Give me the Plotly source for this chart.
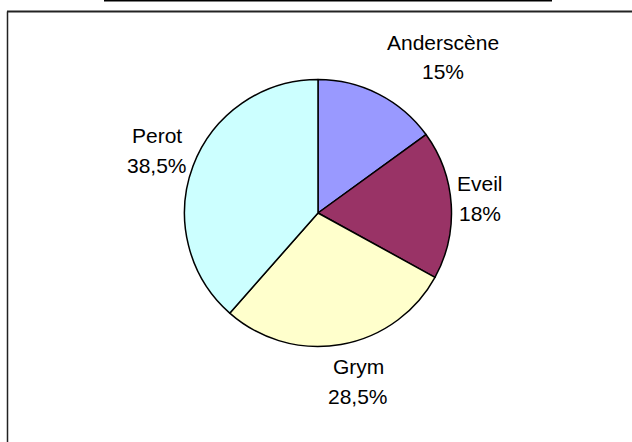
import plotly.graph_objects as go

labels = ["Anderscène", "Eveil", "Grym", "Perot"]
values = [15, 18, 28.5, 38.5]
pct_labels = ["15%", "18%", "28,5%", "38,5%"]
colors = ["#9999FF", "#993366", "#FFFFCC", "#CCFFFF"]

W, H = 632, 442
cx, cy, r = 318, 213, 133.5

# label block centres (pixels from top-left), x centre and y of first line
label_pos = [(443, 42), (480, 183), (358, 366), (157, 135)]
line_gap = 30

fig = go.Figure(go.Pie(
    labels=labels,
    values=values,
    sort=False,
    direction="clockwise",
    rotation=0,
    marker=dict(colors=colors, line=dict(color="black", width=1.5)),
    textinfo="none",
    showlegend=False,
    hoverinfo="label+percent",
    domain=dict(x=[(cx - r) / W, (cx + r) / W], y=[(H - cy - r) / H, (H - cy + r) / H]),
))

font = dict(family="Liberation Sans, Arial, sans-serif", size=21, color="black")
annotations = []
for lab, pct, (px, py) in zip(labels, pct_labels, label_pos):
    for i, t in enumerate([lab, pct]):
        annotations.append(dict(
            text=t, xref="paper", yref="paper",
            x=px / W, y=1 - (py + i * line_gap) / H,
            xanchor="center", yanchor="middle", showarrow=False, font=font,
        ))

fig.update_layout(
    width=W, height=H,
    margin=dict(l=0, r=0, t=0, b=0),
    paper_bgcolor="white",
    plot_bgcolor="white",
    annotations=annotations,
    shapes=[
        dict(type="line", xref="paper", yref="paper", x0=104 / W, x1=552 / W, y0=1 - 0.8 / H, y1=1 - 0.8 / H,
             line=dict(color="black", width=1.5)),
        dict(type="line", xref="paper", yref="paper", x0=7 / W, x1=1.01, y0=1 - 11.5 / H, y1=1 - 11.5 / H,
             line=dict(color="#222222", width=1.8)),
        dict(type="line", xref="paper", yref="paper", x0=7.5 / W, x1=7.5 / W, y0=1 - 11.5 / H, y1=-0.01,
             line=dict(color="#222222", width=1.5)),
    ],
)

fig.write_html("out.html", config={"displayModeBar": False},
               post_script="document.body.style.margin='0';document.body.style.overflow='hidden';")
